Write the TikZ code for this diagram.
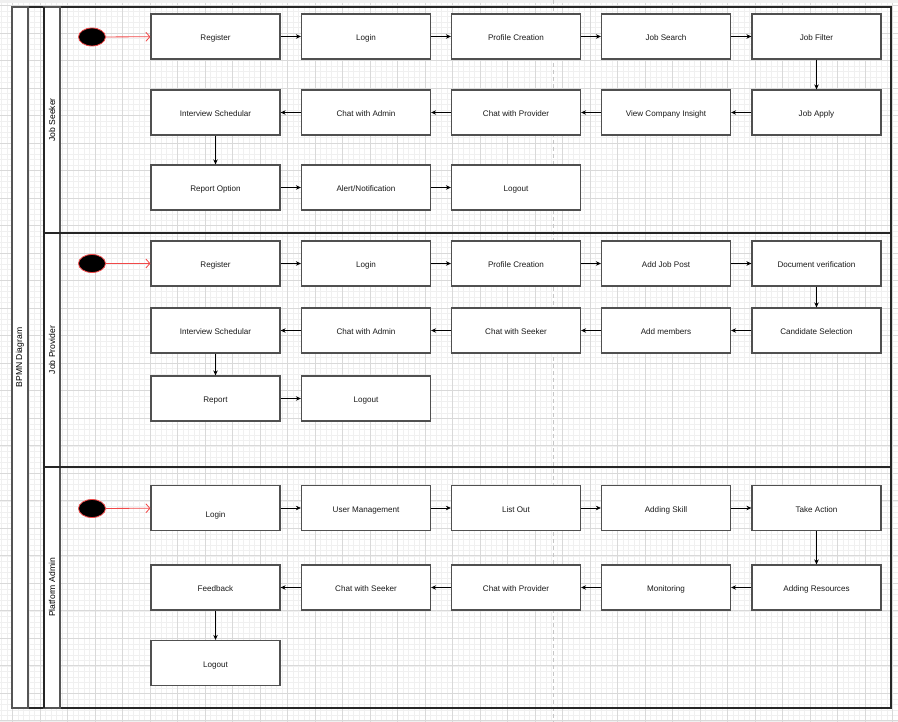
\documentclass[tikz,border=0pt]{standalone}
\usepackage{fontspec}
\setmainfont{Liberation Sans}
\usetikzlibrary{arrows.meta,shapes.geometric}

\definecolor{minorgrid}{HTML}{F0F0F0}
\definecolor{majorgrid}{HTML}{D9D9D9}
\definecolor{boxline}{HTML}{505050}
\definecolor{poolline}{HTML}{555555}
\definecolor{textcol}{HTML}{1A1A1A}
\definecolor{startred}{HTML}{F04848}

\tikzset{
  taskbox/.style={draw=boxline, line width=1.2pt, fill=white, minimum width=129pt,
    minimum height=45pt, inner sep=0pt, text=textcol, text height=9.5pt, text depth=1.5pt,
    font=\fontsize{8.1}{9}\selectfont},
  startev/.style={ellipse, draw=startred, line width=0.8pt, fill=black,
    minimum width=27pt, minimum height=18pt, inner sep=0pt},
  flow/.style={draw=black, line width=0.8pt, -{Stealth[length=5pt,width=4.5pt]}},
  startflow/.style={draw=startred, line width=0.8pt, -{Straight Barb[length=4pt,width=9pt]}},
  lanelabel/.style={rotate=90, text=black, font=\fontsize{8.6}{10}\selectfont},
  poolbar/.style={draw=poolline, line width=1.2pt, fill=white},
}

\begin{document}
\begin{tikzpicture}[x=1pt, y=-1pt]
\useasboundingbox (0,0) rectangle (898,722);

% canvas grid
\fill[white] (0,0) rectangle (898,722);
\foreach \k in {0,...,163} {
  \draw[minorgrid, line width=0.6pt] ({1.5+5.5*\k},0) -- ({1.5+5.5*\k},722);
}
\foreach \k in {0,...,131} {
  \draw[minorgrid, line width=0.6pt] (0,{0.3+5.5*\k}) -- (898,{0.3+5.5*\k});
}
\foreach \k in {0,...,32} {
  \draw[majorgrid, line width=0.8pt] ({12.5+27.5*\k},0) -- ({12.5+27.5*\k},722);
}
\foreach \k in {0,...,26} {
  \draw[majorgrid, line width=0.8pt] (0,{5.8+27.5*\k}) -- (898,{5.8+27.5*\k});
}
\fill[gray!12] (0,0) rectangle (898,3);

% page break guide
\draw[gray!45, line width=1pt, dash pattern=on 4pt off 3pt] (553,0) -- (553,722);

% pool frame and lanes
\draw[black!85, line width=1.2pt] (12,7) rectangle (891,708);
\draw[poolbar] (12,7) rectangle (28,708);
\node[lanelabel] (pooltitle) at (20,357.5) {BPMN Diagram};

\draw[poolbar] (44,7) rectangle (60,233);
\draw[poolbar] (44,233) rectangle (60,467);
\draw[poolbar] (44,467) rectangle (60,708);
\draw[black!85, line width=1.2pt] (44,7) -- (44,708);
\draw[black!85, line width=1.2pt] (44,233) -- (891,233);
\draw[black!85, line width=1.2pt] (44,467) -- (891,467);
\draw[black!85, line width=1.2pt] (891,7) -- (891,708);
\node[lanelabel] (laneA) at (52,120) {Job Seeker};
\node[lanelabel] (laneB) at (52,350) {Job Provider};
\node[lanelabel] (laneC) at (52,587.5) {Platform Admin};

% ---------- Job Seeker ----------
\node[startev] (sA) at (92,37) {};
\node[taskbox] (a1) at (215.5,36.5) {Register};
\node[taskbox] (a2) at (366,36.5) {Login};
\node[taskbox] (a3) at (516,36.5) {Profile Creation};
\node[taskbox] (a4) at (666,36.5) {Job Search};
\node[taskbox] (a5) at (816.5,36.5) {Job Filter};
\node[taskbox] (a6) at (215.5,112.5) {Interview Schedular};
\node[taskbox] (a7) at (366,112.5) {Chat with Admin};
\node[taskbox] (a8) at (516,112.5) {Chat with Provider};
\node[taskbox] (a9) at (666,112.5) {View Company Insight};
\node[taskbox] (a10) at (816.5,112.5) {Job Apply};
\node[taskbox] (a11) at (215.5,187.5) {Report Option};
\node[taskbox] (a12) at (366,187.5) {Alert/Notification};
\node[taskbox] (a13) at (516,187.5) {Logout};

\draw[startflow] (sA) -- (a1);
\draw[flow] (a1) -- (a2);
\draw[flow] (a2) -- (a3);
\draw[flow] (a3) -- (a4);
\draw[flow] (a4) -- (a5);
\draw[flow] (a5) -- (a10);
\draw[flow] (a10) -- (a9);
\draw[flow] (a9) -- (a8);
\draw[flow] (a8) -- (a7);
\draw[flow] (a7) -- (a6);
\draw[flow] (a6) -- (a11);
\draw[flow] (a11) -- (a12);
\draw[flow] (a12) -- (a13);

% ---------- Job Provider ----------
\node[startev] (sB) at (92,263.5) {};
\node[taskbox] (b1) at (215.5,263.5) {Register};
\node[taskbox] (b2) at (366,263.5) {Login};
\node[taskbox] (b3) at (516,263.5) {Profile Creation};
\node[taskbox] (b4) at (666,263.5) {Add Job Post};
\node[taskbox] (b5) at (816.5,263.5) {Document verification};
\node[taskbox] (b6) at (215.5,330.5) {Interview Schedular};
\node[taskbox] (b7) at (366,330.5) {Chat with Admin};
\node[taskbox] (b8) at (516,330.5) {Chat with Seeker};
\node[taskbox] (b9) at (666,330.5) {Add members};
\node[taskbox] (b10) at (816.5,330.5) {Candidate Selection};
\node[taskbox] (b11) at (215.5,398.5) {Report};
\node[taskbox] (b12) at (366,398.5) {Logout};

\draw[startflow] (sB) -- (b1);
\draw[flow] (b1) -- (b2);
\draw[flow] (b2) -- (b3);
\draw[flow] (b3) -- (b4);
\draw[flow] (b4) -- (b5);
\draw[flow] (b5) -- (b10);
\draw[flow] (b10) -- (b9);
\draw[flow] (b9) -- (b8);
\draw[flow] (b8) -- (b7);
\draw[flow] (b7) -- (b6);
\draw[flow] (b6) -- (b11);
\draw[flow] (b11) -- (b12);

% ---------- Platform Admin ----------
\node[startev] (sC) at (92,508.5) {};
% the first task's caption sits a little below its centre
\node[taskbox, text height=19.5pt, text depth=1.5pt] (c1) at (215.5,508) {Login};
\node[taskbox] (c2) at (366,508) {User Management};
\node[taskbox] (c3) at (516,508) {List Out};
\node[taskbox] (c4) at (666,508) {Adding Skill};
\node[taskbox] (c5) at (816.5,508) {Take Action};
\node[taskbox] (c6) at (215.5,587.5) {Feedback};
\node[taskbox] (c7) at (366,587.5) {Chat with Seeker};
\node[taskbox] (c8) at (516,587.5) {Chat with Provider};
\node[taskbox] (c9) at (666,587.5) {Monitoring};
\node[taskbox] (c10) at (816.5,587.5) {Adding Resources};
\node[taskbox] (c11) at (215.5,663) {Logout};

\draw[startflow] (sC) -- (c1);
\draw[flow] (c1) -- (c2);
\draw[flow] (c2) -- (c3);
\draw[flow] (c3) -- (c4);
\draw[flow] (c4) -- (c5);
\draw[flow] (c5) -- (c10);
\draw[flow] (c10) -- (c9);
\draw[flow] (c9) -- (c8);
\draw[flow] (c8) -- (c7);
\draw[flow] (c7) -- (c6);
\draw[flow] (c6) -- (c11);

\end{tikzpicture}
\end{document}
